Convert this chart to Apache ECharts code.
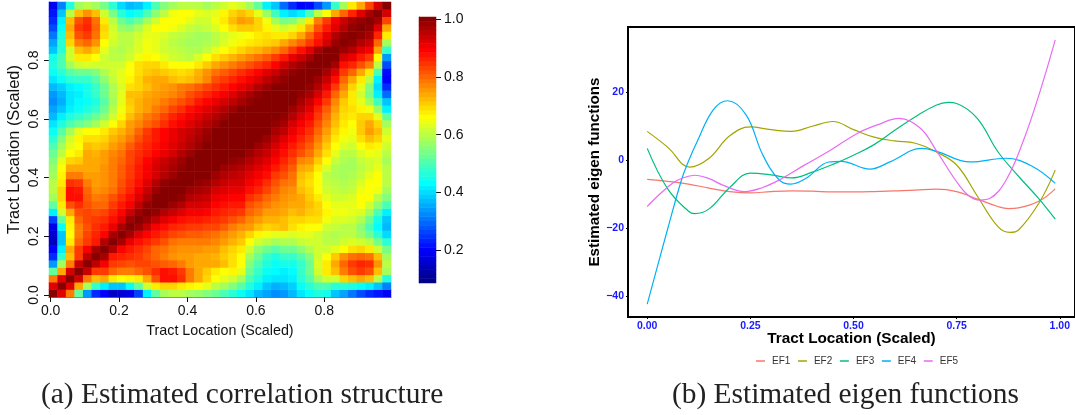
<!DOCTYPE html>
<html><head><meta charset="utf-8">
<style>html,body{margin:0;padding:0;background:#fff}#c{width:1075px;height:415px}</style>
<script src="https://cdn.jsdelivr.net/npm/echarts@6/dist/echarts.min.js"></script>
</head><body><div id="c"></div>
<script>
// lower triangle of the correlation matrix (percent); row i holds columns 0..i
const corrRows = [
"100",
"92 100",
"78 92 100",
"52 74 93 100",
"34 58 78 94 100",
"24 48 72 84 95 100",
"20 42 74 84 90 97 100",
"15 38 68 80 84 87 96 100",
"16 38 66 78 83 86 89 97 100",
"18 44 67 78 82 85 87 91 97 100",
"26 52 68 80 83 84 85 88 92 98 100",
"42 62 74 82 83 82 83 86 89 94 98 100",
"52 68 82 85 82 80 80 84 87 90 95 99 100",
"58 70 88 88 81 78 79 82 85 88 92 96 100 100",
"60 70 88 87 80 76 77 79 83 86 90 94 98 100 100",
"60 68 85 84 78 75 76 78 82 85 88 92 96 99 100 100",
"58 67 78 78 75 75 76 78 81 84 87 90 93 96 98 100 100",
"57 66 74 74 74 74 76 78 81 84 87 90 93 95 97 99 100 100",
"55 64 70 71 74 74 75 78 80 83 86 89 92 94 96 98 100 100 100",
"53 60 66 68 74 73 75 77 79 83 85 87 89 91 93 96 98 100 100 100",
"50 58 64 66 72 71 72 75 77 81 84 86 88 90 92 94 96 98 100 100 100",
"47 55 62 67 69 69 70 73 75 78 82 85 87 89 91 93 95 97 99 100 100 100",
"44 51 58 64 66 66 68 71 73 76 80 84 87 89 91 93 94 96 98 100 100 100 100",
"41 46 50 53 55 58 62 66 70 75 77 80 82 85 88 90 92 94 96 98 100 100 100 100",
"37 42 46 48 50 53 56 62 67 72 75 78 80 83 86 88 90 92 94 96 98 100 100 100 100",
"35 38 42 44 46 48 53 60 65 70 73 75 78 80 83 85 88 90 92 94 96 98 100 100 100 100",
"33 36 41 43 44 46 51 58 64 71 73 75 76 78 80 82 84 87 89 91 93 95 97 99 100 100 100",
"34 37 41 42 45 48 53 59 64 72 72 74 75 76 77 79 82 84 86 88 90 92 95 97 99 100 100 100",
"37 39 42 43 45 48 53 59 63 69 70 72 74 75 76 78 79 81 83 85 87 89 91 93 96 98 100 100 100",
"41 44 47 48 48 51 56 61 64 67 70 73 74 74 72 71 72 74 77 82 84 86 88 90 92 95 97 99 100 100",
"44 47 51 53 53 55 59 62 64 66 69 71 72 71 70 69 70 73 76 79 81 83 85 87 89 92 94 97 99 100 100",
"46 50 58 62 63 62 62 62 62 66 69 70 70 68 66 66 66 68 71 74 76 78 80 82 84 86 89 93 96 98 100 100",
"45 50 62 68 68 66 62 60 60 62 65 67 66 64 62 61 60 63 66 69 71 73 75 77 79 81 84 87 91 94 97 100 100",
"38 47 62 72 74 71 64 60 59 61 63 65 64 62 61 60 59 59 61 64 66 68 70 72 73 75 77 80 84 88 92 97 100 100",
"35 47 70 78 80 76 66 62 60 60 63 65 64 62 60 59 58 58 59 60 63 65 67 68 69 70 71 74 77 80 84 88 93 98 100",
"31 46 72 82 84 79 69 63 60 60 62 64 64 63 61 60 59 58 58 60 62 64 65 66 68 69 68 68 70 74 80 86 91 96 99 100",
"27 44 74 84 86 80 70 62 57 56 59 63 66 66 65 63 61 60 61 63 66 69 71 71 70 67 64 62 64 68 74 82 87 92 96 99 100",
"24 42 72 82 85 79 68 60 53 50 53 58 62 66 66 66 64 62 62 65 68 72 75 74 70 65 58 54 55 60 68 78 84 90 94 97 99 100",
"22 38 60 72 76 72 62 54 47 43 45 50 56 60 65 66 66 64 63 64 67 70 72 70 64 57 49 42 40 42 50 60 66 74 80 86 92 97 100",
"19 32 46 58 60 58 54 47 40 37 38 42 50 55 58 60 60 60 58 60 62 64 62 58 52 42 38 30 24 20 21 27 34 48 58 68 74 83 93 100"
];
const heatTicks = [0, 0.2, 0.4, 0.6, 0.8];
const colorbarTicks = [0.2, 0.4, 0.6, 0.8, 1.0];
const colorMin = 0.087, colorMax = 1.007, colorSteps = 60;
const jet = ['#00007F','#0000FF','#007FFF','#00FFFF','#7FFF7F','#FFFF00','#FF7F00','#FF0000','#7F0000'];

const ef1X = [0,.05,.10,.15,.20,.25,.30,.35,.40,.45,.50,.55,.60,.65,.70,.75,.80,.85,.875,.90,.95,.989];
const ef1Y = [-5.6,-6.2,-7,-8.2,-9.2,-9.6,-9.2,-9,-9.1,-9.3,-9.3,-9.2,-9,-8.8,-8.5,-9.2,-11.4,-13.6,-14.2,-14,-12,-8.4];
const ef2X = [0,.05,.103,.15,.20,.25,.30,.35,.40,.45,.50,.55,.60,.65,.70,.75,.80,.85,.879,.90,.95,.989];
const ef2Y = [8.5,3.8,-2,.6,7.2,9.8,9,8.5,10,11.4,9,6.8,5.7,5,2.5,-1.4,-10.5,-19.5,-21.2,-20.5,-12.5,-2.9];
const ef3X = [0,.05,.10,.115,.15,.20,.25,.30,.35,.40,.45,.50,.55,.60,.65,.70,.73,.75,.80,.85,.90,.95,.989];
const ef3Y = [3.5,-8.5,-15,-15.7,-14.3,-8,-3.8,-4.3,-5.2,-3.5,-1.2,1.5,4.6,8.8,12.8,16.2,17,16.7,12.3,2.5,-4.7,-11.4,-17.3];
const ef4X = [0,.05,.083,.10,.12,.16,.195,.24,.28,.32,.348,.385,.44,.47,.54,.59,.665,.70,.783,.87,.935,.989];
const ef4Y = [-42.3,-20,-5.8,-.3,5.2,14.8,17.5,13.3,1.6,-5.8,-7,-5.3,-.5,-.3,-2.6,-.4,3.5,2.7,-.5,.6,-1.9,-6.8];
const ef5X = [0,.03,.062,.08,.115,.15,.183,.236,.28,.32,.38,.441,.509,.56,.61,.662,.70,.747,.78,.807,.831,.87,.911,.952,.989];
const ef5Y = [-13.6,-10,-6.7,-5.5,-4.4,-5.4,-7.3,-9.2,-8,-5.8,-1.5,2.7,7.9,10.5,12.3,9.4,3,-5.8,-10.5,-11.7,-11.2,-5.8,5.5,20.2,35.4];
const efNames = ['EF1','EF2','EF3','EF4','EF5'];
const efColors = ['#F8766D','#A3A500','#00BF7D','#00B0F6','#E76BF3'];
const lineXTicks = [0, 0.25, 0.5, 0.75, 1];
const lineYTicks = [-40, -20, 0, 20];
const xTitle = 'Tract Location (Scaled)';
const yTitleRight = 'Estimated eigen functions';
const captionA = '(a) Estimated correlation structure';
const captionB = '(b) Estimated eigen functions';

const lower = corrRows.map(r => r.split(' ').map(Number));
const N = lower.length;
const cats = lower.map((_, i) => String(i));
const heat = [];
for (let i = 0; i < N; i++) for (let j = 0; j < N; j++) heat.push([j, i, (j <= i ? lower[i][j] : lower[j][i]) / 100]);
const barCats = [], barData = [];
for (let i = 0; i < colorSteps; i++) { barCats.push(String(i)); barData.push([0, i, colorMin + (colorMax - colorMin) * (i + 0.5) / colorSteps]); }
const zip = (a, b) => a.map((v, i) => [v, b[i]]);
const efData = [zip(ef1X, ef1Y), zip(ef2X, ef2Y), zip(ef3X, ef3Y), zip(ef4X, ef4Y), zip(ef5X, ef5Y)];

const sans = '"Liberation Sans", Arial, sans-serif';
const dark = '#111';
const hiddenCat = (gridIndex, data) => ({type:'category', gridIndex, data, show:false, boundaryGap:true});

const chart = echarts.init(document.getElementById('c'), null, {renderer:'canvas'});
const captionStyle = {fontFamily:'"Liberation Serif", serif', fontSize:29.4, fontWeight:'normal', color:'#222'};
chart.setOption({
  animation:false,
  backgroundColor:'#fff',
  title:[
    {text:captionA, left:41, top:381, padding:0, textStyle:captionStyle},
    {text:captionB, left:672, top:381, padding:0, textStyle:captionStyle}
  ],
  grid:[
    {left:49, top:2, width:342, height:295},
    {left:419, top:17, width:17, height:266},
    {left:628, top:27, width:449, height:290, show:true, borderColor:'#000', borderWidth:2, backgroundColor:'transparent'}
  ],
  visualMap:{show:false, seriesIndex:[0,1], min:colorMin, max:colorMax, inRange:{color:jet}},
  legend:{
    data:efNames, left:756, top:356, icon:'rect', itemWidth:9, itemHeight:1.5, itemGap:7.6, padding:0,
    textStyle:{fontFamily:sans, fontSize:10, color:'#333', padding:[0,0,0,2]}
  },
  xAxis:[
    hiddenCat(0, cats),
    {type:'value', gridIndex:0, position:'bottom', min:-0.0047, max:0.995,
     axisLine:{show:true, onZero:false, lineStyle:{color:'#777', width:1}}, splitLine:{show:false},
     axisTick:{show:true, customValues:heatTicks, length:5, lineStyle:{color:dark}},
     axisLabel:{customValues:heatTicks, formatter:v=>v.toFixed(1), fontFamily:sans, fontSize:14, color:dark, margin:7, showMinLabel:true, showMaxLabel:true},
     name:xTitle, nameLocation:'middle', nameGap:27, nameMoveOverlap:false, nameTextStyle:{fontFamily:sans, fontSize:14.3, color:dark}},
    hiddenCat(1, ['0']),
    {type:'value', gridIndex:2, position:'bottom', min:-0.0466, max:1.0369,
     axisLine:{show:false, onZero:false}, splitLine:{show:false},
     axisTick:{show:true, customValues:lineXTicks, length:2, lineStyle:{color:'#000'}},
     axisLabel:{customValues:lineXTicks, formatter:v=>v.toFixed(2), fontFamily:sans, fontSize:10.5, fontWeight:'bold', color:'#1a1aff', margin:4},
     name:xTitle, nameLocation:'middle', nameGap:14, nameMoveOverlap:false, nameTextStyle:{fontFamily:sans, fontSize:15.3, fontWeight:'bold', color:'#000'}}
  ],
  yAxis:[
    hiddenCat(0, cats),
    {type:'value', gridIndex:0, position:'left', min:-0.0068, max:0.998,
     axisLine:{show:true, onZero:false, lineStyle:{color:'#777', width:1}}, splitLine:{show:false},
     axisTick:{show:true, customValues:heatTicks, length:5, lineStyle:{color:dark}},
     axisLabel:{customValues:heatTicks, formatter:v=>v.toFixed(1), rotate:90, fontFamily:sans, fontSize:14, color:dark, margin:8, showMinLabel:true},
     name:xTitle, nameLocation:'middle', nameRotate:90, nameGap:27, nameMoveOverlap:false, nameTextStyle:{fontFamily:sans, fontSize:16.4, color:dark}},
    {type:'category', gridIndex:1, data:barCats, boundaryGap:true, position:'left',
     axisLine:{show:true, lineStyle:{color:'#999', width:1}}, axisTick:{show:false}, axisLabel:{show:false}, splitLine:{show:false}},
    {type:'value', gridIndex:1, position:'right', min:colorMin, max:colorMax,
     axisLine:{show:false, onZero:false}, splitLine:{show:false},
     axisTick:{show:true, customValues:colorbarTicks, length:5, lineStyle:{color:dark}},
     axisLabel:{customValues:colorbarTicks, formatter:v=>v.toFixed(1), fontFamily:sans, fontSize:14, color:dark, margin:8}},
    {type:'value', gridIndex:2, position:'left', min:-46.1, max:39.2,
     axisLine:{show:false, onZero:false}, splitLine:{show:false},
     axisTick:{show:true, customValues:lineYTicks, length:2, lineStyle:{color:'#000'}},
     axisLabel:{customValues:lineYTicks, fontFamily:sans, fontSize:10.5, fontWeight:'bold', color:'#1a1aff', margin:4, formatter:v=>v<0?'\u2212'+(-v):String(v)},
     name:yTitleRight, nameLocation:'middle', nameRotate:90, nameGap:26, nameMoveOverlap:false, nameTextStyle:{fontFamily:sans, fontSize:15.2, fontWeight:'bold', color:'#000'}}
  ],
  series:[
    {type:'heatmap', xAxisIndex:0, yAxisIndex:0, data:heat, silent:true, progressive:0, itemStyle:{borderWidth:0}},
    {type:'heatmap', xAxisIndex:2, yAxisIndex:2, data:barData, silent:true, progressive:0, itemStyle:{borderWidth:0}}
  ].concat(efNames.map((n,k)=>({
    type:'line', name:n, xAxisIndex:3, yAxisIndex:4, data:efData[k], smooth:0.4, showSymbol:false, silent:true,
    lineStyle:{color:efColors[k], width:1.2}, itemStyle:{color:efColors[k]}, clip:true
  })))
});
</script></body></html>
